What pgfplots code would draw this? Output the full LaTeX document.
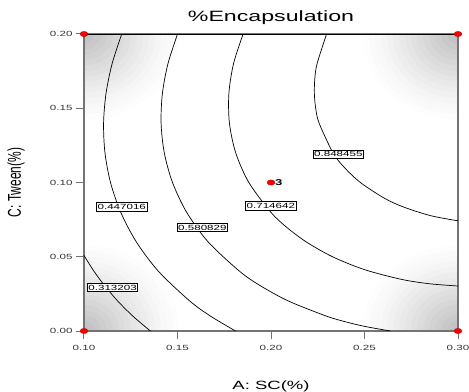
\documentclass[border=0pt]{standalone}
\usepackage{pgfplots}
\pgfplotsset{compat=1.18}
\usepackage{graphicx}
\usepackage{fontspec}
\setmainfont{Liberation Sans}[FakeStretch=1.55]
\newfontfamily\plainfont{Liberation Sans}
\newcommand\vcorner[1]{%
\fill[black!0.8] #1 ellipse [x radius=95bp, y radius=85.5bp];
\fill[black!1.8] #1 ellipse [x radius=89bp, y radius=80bp];
\fill[black!2.9] #1 ellipse [x radius=83bp, y radius=74.5bp];
\fill[black!4.1] #1 ellipse [x radius=77bp, y radius=69.5bp];
\fill[black!5.5] #1 ellipse [x radius=71bp, y radius=64bp];
\fill[black!7] #1 ellipse [x radius=65bp, y radius=58.5bp];
\fill[black!8.6] #1 ellipse [x radius=59bp, y radius=53bp];
\fill[black!10.3] #1 ellipse [x radius=53bp, y radius=47.5bp];
\fill[black!12] #1 ellipse [x radius=47bp, y radius=42.5bp];
\fill[black!13.8] #1 ellipse [x radius=41bp, y radius=37bp];
\fill[black!15.6] #1 ellipse [x radius=35bp, y radius=31.5bp];
\fill[black!17.5] #1 ellipse [x radius=29bp, y radius=26bp];
\fill[black!19.4] #1 ellipse [x radius=23bp, y radius=20.5bp];
\fill[black!21.3] #1 ellipse [x radius=17bp, y radius=15.5bp];
\fill[black!23.2] #1 ellipse [x radius=11bp, y radius=10bp];
\fill[black!25] #1 ellipse [x radius=5bp, y radius=4.5bp];}
\begin{document}
\begin{tikzpicture}
\begin{axis}[
  name=ax,
  scale only axis,
  width=374bp, height=297bp,
  xmin=0.10, xmax=0.30, ymin=0, ymax=0.20,
  xtick={0.10,0.15,0.20,0.25,0.30},
  ytick={0,0.05,0.10,0.15,0.20},
  xtick pos=bottom, ytick pos=left,
  tick align=outside,
  major tick length=8bp,
  tick style={black!55, line width=1bp},
  axis line style={black!55, line width=1.3bp},
  clip=false,
  /pgf/number format/assume math mode=true,
  xticklabel style={/pgf/number format/.cd, fixed, fixed zerofill, precision=2},
  yticklabel style={/pgf/number format/.cd, fixed, fixed zerofill, precision=2},
  xticklabel shift=3bp,
  ticklabel style={font=\fontsize{7.5}{8}\selectfont, text=black!80},
  title={\%Encapsulation},
  title style={font=\fontsize{15}{16}\selectfont, at={(axis description cs:0.5,1)}, anchor=base, yshift=7bp, inner sep=0pt},
  xlabel={A: SC(\%)},
  xlabel style={font=\fontsize{12}{13}\selectfont, at={(axis description cs:0.5,0)}, anchor=base, yshift=-58bp, inner sep=0pt},
  ylabel={\scalebox{1}[1.55]{\plainfont\fontsize{12}{13}\selectfont C: Tween(\%)}},
  ylabel style={at={(axis description cs:-0.1818,0.5)}, anchor=center, inner sep=0pt},
]
% background vignette (grey corners)
\begin{scope}
\clip (rel axis cs:0,0) rectangle (rel axis cs:1,1);
\fill[white] (rel axis cs:0,0) rectangle (rel axis cs:1,1);
\vcorner{(rel axis cs:0,0)}
\vcorner{(rel axis cs:1,0)}
\vcorner{(rel axis cs:0,1)}
\vcorner{(rel axis cs:1,1)}
\end{scope}
\draw[black!55, line width=1.3bp] (rel axis cs:0,0) rectangle (rel axis cs:1,1);

% contour 0.313203
\addplot[black, line width=0.7bp, smooth] coordinates {
(0.10000,0.0509) (0.10043,0.0500) (0.10546,0.0400) (0.11134,0.0300) (0.11818,0.0200) (0.12614,0.0100) (0.13550,0.0000)};
% contour 0.447016
\addplot[black, line width=0.7bp, smooth] coordinates {
(0.12019,0.20) (0.11503,0.18) (0.11178,0.16) (0.11047,0.14) (0.11121,0.12) (0.11417,0.10) (0.11963,0.08) (0.12798,0.06) (0.13995,0.04) (0.15675,0.02) (0.16768,0.01) (0.18102,0.00)};
% contour 0.580829
\addplot[black, line width=0.7bp, smooth] coordinates {
(0.15003,0.20) (0.14489,0.18) (0.14193,0.16) (0.14122,0.14) (0.14293,0.12) (0.14733,0.10) (0.15487,0.08) (0.16639,0.06) (0.18340,0.04) (0.19495,0.03) (0.20965,0.02) (0.22969,0.01) (0.24000,0.00615) (0.25000,0.00313) (0.26380,0.00)};
% contour 0.714642
\addplot[black, line width=0.7bp, smooth] coordinates {
(0.18508,0.20) (0.17996,0.18) (0.17748,0.16) (0.17777,0.14) (0.18113,0.12) (0.18815,0.10) (0.19991,0.08) (0.20822,0.07) (0.21884,0.06) (0.23290,0.05) (0.25000,0.04132) (0.27000,0.03471) (0.28500,0.03178) (0.30000,0.0303)};
% contour 0.848455
\addplot[black, line width=0.7bp, smooth] coordinates {
(0.22972,0.20) (0.22464,0.18) (0.22344,0.17) (0.22319,0.16) (0.22390,0.15) (0.22572,0.14) (0.23315,0.12) (0.23932,0.11) (0.24781,0.10) (0.26000,0.08987) (0.27000,0.08391) (0.28500,0.07778) (0.30000,0.07418)};

\draw[black, line width=0.7bp] (rel axis cs:0,1) -- (rel axis cs:1,1);

\tikzset{clab/.style={draw=black, fill=white, line width=0.6bp, inner xsep=1bp, inner ysep=1.5bp, font=\fontsize{7.5}{8}\selectfont}}
\node[clab] at (axis cs:0.1153,0.0292) {0.313203};
\node[clab] at (axis cs:0.1202,0.0837) {0.447016};
\node[clab] at (axis cs:0.1633,0.0696) {0.580829};
\node[clab] at (axis cs:0.1999,0.0844) {0.714642};
\node[clab] at (axis cs:0.2360,0.1191) {0.848455};

% design points
\addplot[only marks, mark=*, mark size=2.6bp, mark options={xscale=1.5, fill=red, draw=red!70!black, line width=0.4bp}] coordinates {
(0.10,0.20) (0.30,0.20) (0.10,0.00) (0.30,0.00) (0.20,0.10)};
\node[anchor=west, inner sep=0pt, xshift=4bp, font=\bfseries\fontsize{8.5}{9}\selectfont] at (axis cs:0.20,0.10) {3};
\end{axis}
\pgfresetboundingbox
\useasboundingbox ([xshift=-84bp,yshift=-61bp]ax.south west) rectangle ([xshift=11bp,yshift=34bp]ax.north east);
\end{tikzpicture}
\end{document}
